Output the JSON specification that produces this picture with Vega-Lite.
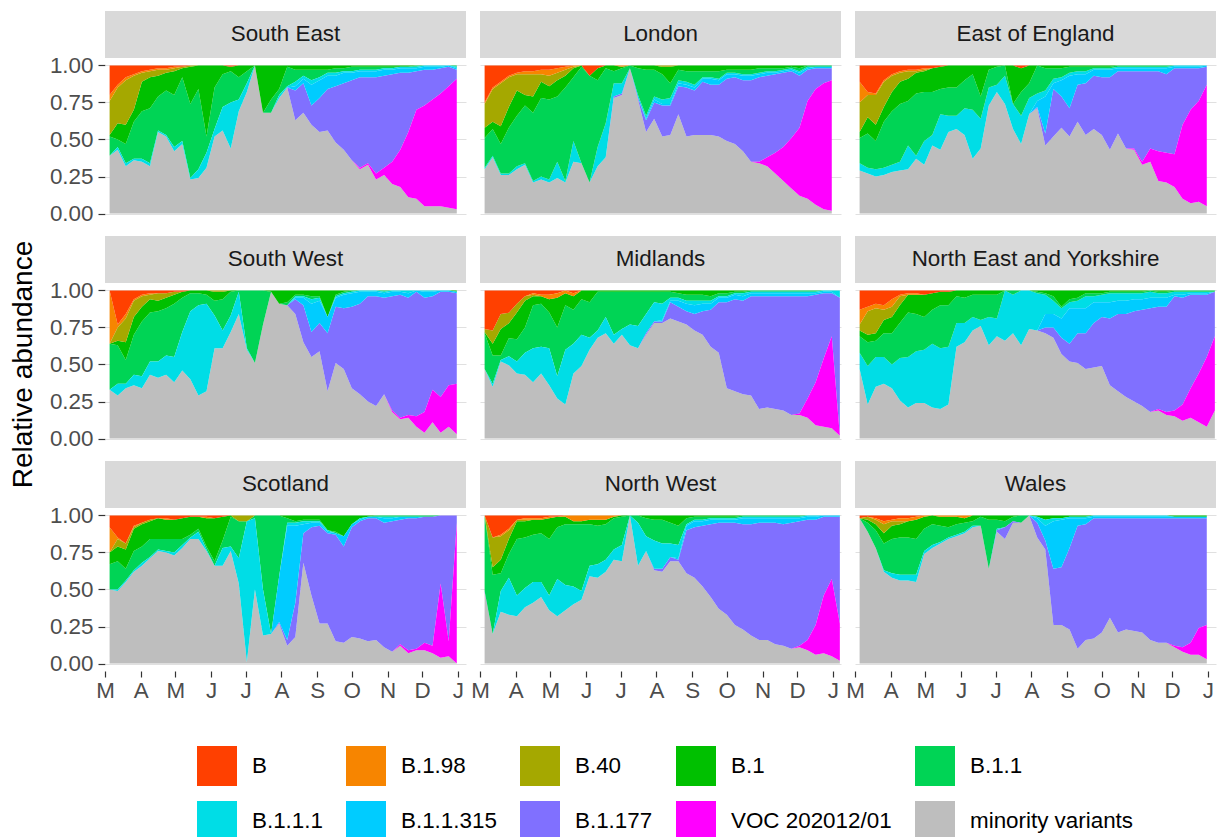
{
"$schema":"https://vega.github.io/schema/vega-lite/v6.json",
"padding":{"left":10,"top":10,"right":8,"bottom":0},
"background":"white",
"config":{"view":{"stroke":null},"font":"Liberation Sans","header":{"labels":false,"title":null,"labelPadding":0},"headerFacet":{"labels":false,"title":null,"labelPadding":0}},
"title":{"text":"Relative abundance","orient":"left","anchor":"middle","fontSize":28,"fontWeight":"normal","color":"black","offset":11,"dx":61},
"datasets":{
"variants":[{"code":"b","variant":"B","ord":9},{"code":"n","variant":"B.1.98","ord":8},{"code":"o","variant":"B.40","ord":7},{"code":"k","variant":"B.1","ord":6},{"code":"l","variant":"B.1.1","ord":5},{"code":"c","variant":"B.1.1.1","ord":4},{"code":"q","variant":"B.1.1.315","ord":3},{"code":"p","variant":"B.1.177","ord":2},{"code":"v","variant":"VOC 202012/01","ord":1},{"code":"m","variant":"minority variants","ord":0}],
"regions":[{"r":"SE","region":"South East"},{"r":"LO","region":"London"},{"r":"EE","region":"East of England"},{"r":"SW","region":"South West"},{"r":"MI","region":"Midlands"},{"r":"NE","region":"North East and Yorkshire"},{"r":"SC","region":"Scotland"},{"r":"NW","region":"North West"},{"r":"WA","region":"Wales"}]
},
"data":{"format":{"parse":{"d":"date"}},"values":[
{"r":"SE","d":"2020-03-05","m":0.39,"l":0.13,"k":0.01,"o":0.23,"n":0.04,"b":0.2},
{"r":"SE","d":"2020-03-12","m":0.43,"c":0.02,"l":0.05,"k":0.11,"o":0.24,"n":0.02,"b":0.13},
{"r":"SE","d":"2020-03-19","m":0.32,"c":0.02,"l":0.13,"k":0.13,"o":0.3,"n":0.02,"b":0.08},
{"r":"SE","d":"2020-03-26","m":0.36,"c":0.01,"l":0.25,"k":0.08,"o":0.23,"n":0.01,"b":0.06},
{"r":"SE","d":"2020-04-02","m":0.35,"c":0.02,"l":0.32,"k":0.2,"o":0.06,"n":0.01,"b":0.04},
{"r":"SE","d":"2020-04-09","m":0.32,"c":0.02,"l":0.37,"k":0.21,"o":0.04,"n":0.01,"b":0.03},
{"r":"SE","d":"2020-04-16","m":0.55,"c":0.01,"l":0.23,"k":0.14,"o":0.04,"n":0.01,"b":0.02},
{"r":"SE","d":"2020-04-23","m":0.52,"c":0.01,"l":0.3,"k":0.12,"o":0.02,"n":0.01,"b":0.02},
{"r":"SE","d":"2020-04-30","m":0.42,"c":0.03,"l":0.35,"k":0.16,"o":0.02,"n":0.01,"b":0.01},
{"r":"SE","d":"2020-05-07","m":0.47,"c":0.02,"l":0.43,"k":0.06,"o":0.01,"b":0.01},
{"r":"SE","d":"2020-05-14","m":0.23,"c":0.01,"l":0.5,"k":0.25,"o":0.01},
{"r":"SE","d":"2020-05-21","m":0.24,"c":0.06,"l":0.54,"k":0.16},
{"r":"SE","d":"2020-05-28","m":0.31,"c":0.1,"l":0.11,"k":0.48},
{"r":"SE","d":"2020-06-04","m":0.52,"c":0.05,"l":0.28,"k":0.15},
{"r":"SE","d":"2020-06-11","m":0.56,"c":0.16,"l":0.22,"k":0.06},
{"r":"SE","d":"2020-06-18","m":0.44,"c":0.31,"l":0.21,"k":0.03,"b":0.01},
{"r":"SE","d":"2020-06-25","m":0.69,"c":0.08,"l":0.15,"k":0.08},
{"r":"SE","d":"2020-07-02","m":0.82,"c":0.06,"l":0.08,"k":0.04},
{"r":"SE","d":"2020-07-09","m":1.0},
{"r":"SE","d":"2020-07-16","m":0.68,"k":0.32},
{"r":"SE","d":"2020-07-23","m":0.68,"l":0.09,"k":0.23},
{"r":"SE","d":"2020-07-30","m":0.78,"c":0.02,"l":0.04,"k":0.16},
{"r":"SE","d":"2020-08-06","m":0.85,"c":0.01,"l":0.13,"k":0.01},
{"r":"SE","d":"2020-08-13","m":0.63,"p":0.2,"q":0.03,"c":0.03,"l":0.08,"k":0.03},
{"r":"SE","d":"2020-08-20","m":0.68,"p":0.2,"q":0.03,"c":0.02,"l":0.04,"k":0.03},
{"r":"SE","d":"2020-08-27","m":0.6,"p":0.13,"q":0.14,"c":0.03,"l":0.07,"k":0.03},
{"r":"SE","d":"2020-09-03","m":0.55,"p":0.23,"q":0.12,"c":0.02,"l":0.05,"k":0.03},
{"r":"SE","d":"2020-09-10","m":0.56,"p":0.28,"q":0.09,"c":0.02,"l":0.02,"k":0.03},
{"r":"SE","d":"2020-09-17","m":0.48,"p":0.38,"q":0.07,"c":0.02,"l":0.03,"k":0.02},
{"r":"SE","d":"2020-09-24","m":0.43,"p":0.45,"q":0.07,"c":0.01,"l":0.02,"k":0.02},
{"r":"SE","d":"2020-10-01","m":0.36,"p":0.54,"q":0.05,"c":0.01,"l":0.03,"k":0.01},
{"r":"SE","d":"2020-10-08","m":0.3,"v":0.01,"p":0.61,"q":0.04,"c":0.01,"l":0.02,"k":0.01},
{"r":"SE","d":"2020-10-15","m":0.33,"v":0.01,"p":0.58,"q":0.04,"c":0.01,"l":0.02,"k":0.01},
{"r":"SE","d":"2020-10-22","m":0.23,"v":0.04,"p":0.65,"q":0.04,"c":0.01,"l":0.02,"k":0.01},
{"r":"SE","d":"2020-10-29","m":0.26,"v":0.05,"p":0.62,"q":0.04,"c":0.01,"l":0.01,"k":0.01},
{"r":"SE","d":"2020-11-05","m":0.2,"v":0.15,"p":0.59,"q":0.03,"c":0.01,"l":0.01,"k":0.01},
{"r":"SE","d":"2020-11-12","m":0.18,"v":0.25,"p":0.52,"q":0.03,"c":0.01,"k":0.01},
{"r":"SE","d":"2020-11-19","m":0.11,"v":0.44,"p":0.4,"q":0.03,"c":0.01,"k":0.01},
{"r":"SE","d":"2020-11-26","m":0.1,"v":0.6,"p":0.26,"q":0.02,"c":0.01,"l":0.01},
{"r":"SE","d":"2020-12-03","m":0.05,"v":0.68,"p":0.24,"q":0.02,"c":0.01},
{"r":"SE","d":"2020-12-10","m":0.05,"v":0.72,"p":0.2,"q":0.02,"c":0.01},
{"r":"SE","d":"2020-12-17","m":0.05,"v":0.76,"p":0.17,"q":0.01,"c":0.01},
{"r":"SE","d":"2020-12-24","m":0.04,"v":0.82,"p":0.13,"q":0.01},
{"r":"SE","d":"2020-12-31","m":0.03,"v":0.88,"p":0.06,"q":0.01,"c":0.01,"l":0.01},
{"r":"LO","d":"2020-03-05","m":0.3,"c":0.01,"l":0.2,"k":0.07,"o":0.16,"n":0.01,"b":0.25},
{"r":"LO","d":"2020-03-12","m":0.38,"c":0.01,"l":0.18,"k":0.05,"o":0.22,"n":0.01,"b":0.15},
{"r":"LO","d":"2020-03-19","m":0.26,"c":0.01,"l":0.2,"k":0.12,"o":0.29,"n":0.01,"b":0.11},
{"r":"LO","d":"2020-03-26","m":0.26,"c":0.01,"l":0.31,"k":0.14,"o":0.2,"n":0.01,"b":0.07},
{"r":"LO","d":"2020-04-02","m":0.3,"c":0.02,"l":0.34,"k":0.17,"o":0.11,"n":0.01,"b":0.05},
{"r":"LO","d":"2020-04-09","m":0.33,"c":0.01,"l":0.39,"k":0.07,"o":0.14,"n":0.02,"b":0.04},
{"r":"LO","d":"2020-04-16","m":0.21,"c":0.01,"l":0.46,"k":0.11,"o":0.15,"n":0.02,"b":0.04},
{"r":"LO","d":"2020-04-23","m":0.23,"c":0.02,"l":0.53,"k":0.11,"o":0.05,"n":0.03,"b":0.03},
{"r":"LO","d":"2020-04-30","m":0.21,"c":0.02,"l":0.54,"k":0.09,"o":0.07,"n":0.04,"b":0.03},
{"r":"LO","d":"2020-05-07","m":0.24,"c":0.11,"l":0.44,"k":0.11,"o":0.05,"n":0.03,"b":0.02},
{"r":"LO","d":"2020-05-14","m":0.21,"c":0.01,"l":0.63,"k":0.08,"o":0.04,"n":0.02,"b":0.01},
{"r":"LO","d":"2020-05-21","m":0.35,"c":0.14,"l":0.43,"k":0.06,"o":0.01,"n":0.01},
{"r":"LO","d":"2020-05-28","m":0.34,"l":0.65,"k":0.01},
{"r":"LO","d":"2020-06-04","m":0.21,"l":0.72,"b":0.07},
{"r":"LO","d":"2020-06-11","m":0.32,"c":0.13,"l":0.45,"k":0.08,"b":0.02},
{"r":"LO","d":"2020-06-18","m":0.38,"c":0.23,"l":0.37,"k":0.02},
{"r":"LO","d":"2020-06-25","m":0.78,"p":0.01,"c":0.09,"l":0.08,"k":0.04},
{"r":"LO","d":"2020-07-02","m":0.8,"p":0.01,"c":0.07,"l":0.1,"k":0.01,"n":0.01},
{"r":"LO","d":"2020-07-09","m":0.98,"l":0.02},
{"r":"LO","d":"2020-07-16","m":0.77,"p":0.01,"c":0.02,"l":0.18,"k":0.02},
{"r":"LO","d":"2020-07-23","m":0.55,"p":0.08,"q":0.01,"c":0.02,"l":0.31,"k":0.03},
{"r":"LO","d":"2020-07-30","m":0.64,"p":0.11,"q":0.02,"c":0.02,"l":0.18,"k":0.03},
{"r":"LO","d":"2020-08-06","m":0.52,"p":0.21,"q":0.01,"c":0.03,"l":0.17,"k":0.05,"o":0.01},
{"r":"LO","d":"2020-08-13","m":0.53,"p":0.2,"q":0.01,"c":0.04,"l":0.1,"k":0.11,"o":0.01},
{"r":"LO","d":"2020-08-20","m":0.67,"p":0.19,"q":0.02,"c":0.02,"l":0.07,"k":0.03},
{"r":"LO","d":"2020-08-27","m":0.52,"p":0.33,"q":0.02,"c":0.02,"l":0.07,"k":0.04},
{"r":"LO","d":"2020-09-03","m":0.53,"p":0.3,"q":0.02,"c":0.02,"l":0.09,"k":0.04},
{"r":"LO","d":"2020-09-10","m":0.53,"p":0.36,"q":0.02,"c":0.01,"l":0.04,"k":0.04},
{"r":"LO","d":"2020-09-17","m":0.53,"p":0.34,"q":0.04,"c":0.01,"l":0.04,"k":0.04},
{"r":"LO","d":"2020-09-24","m":0.52,"p":0.35,"q":0.03,"c":0.01,"l":0.05,"k":0.04},
{"r":"LO","d":"2020-10-01","m":0.49,"p":0.42,"q":0.03,"c":0.01,"l":0.02,"k":0.03},
{"r":"LO","d":"2020-10-08","m":0.47,"p":0.45,"q":0.02,"c":0.01,"l":0.02,"k":0.03},
{"r":"LO","d":"2020-10-15","m":0.42,"p":0.48,"q":0.03,"c":0.01,"l":0.03,"k":0.03},
{"r":"LO","d":"2020-10-22","m":0.35,"p":0.55,"q":0.03,"c":0.01,"l":0.03,"k":0.03},
{"r":"LO","d":"2020-10-29","m":0.34,"v":0.01,"p":0.57,"q":0.02,"c":0.01,"l":0.03,"k":0.02},
{"r":"LO","d":"2020-11-05","m":0.32,"v":0.06,"p":0.55,"q":0.02,"c":0.01,"l":0.02,"k":0.02},
{"r":"LO","d":"2020-11-12","m":0.27,"v":0.14,"p":0.53,"q":0.01,"c":0.01,"l":0.02,"k":0.02},
{"r":"LO","d":"2020-11-19","m":0.22,"v":0.23,"p":0.5,"q":0.01,"c":0.01,"l":0.01,"k":0.02},
{"r":"LO","d":"2020-11-26","m":0.17,"v":0.34,"p":0.45,"q":0.01,"c":0.01,"l":0.01,"k":0.01},
{"r":"LO","d":"2020-12-03","m":0.12,"v":0.46,"p":0.35,"q":0.02,"c":0.01,"l":0.02,"k":0.02},
{"r":"LO","d":"2020-12-10","m":0.1,"v":0.66,"p":0.21,"q":0.01,"c":0.01,"l":0.01},
{"r":"LO","d":"2020-12-17","m":0.06,"v":0.78,"p":0.14,"q":0.01,"l":0.01},
{"r":"LO","d":"2020-12-24","m":0.03,"v":0.85,"p":0.1,"q":0.01,"l":0.01},
{"r":"LO","d":"2020-12-31","m":0.02,"v":0.88,"p":0.08,"q":0.01,"l":0.01},
{"r":"EE","d":"2020-03-05","m":0.29,"c":0.05,"l":0.17,"k":0.04,"o":0.2,"n":0.14,"b":0.11},
{"r":"EE","d":"2020-03-12","m":0.27,"c":0.04,"l":0.23,"k":0.11,"o":0.15,"n":0.02,"b":0.18},
{"r":"EE","d":"2020-03-19","m":0.25,"c":0.05,"l":0.19,"k":0.11,"o":0.2,"n":0.01,"b":0.19},
{"r":"EE","d":"2020-03-26","m":0.26,"c":0.05,"l":0.31,"k":0.1,"o":0.17,"n":0.01,"b":0.1},
{"r":"EE","d":"2020-04-02","m":0.28,"c":0.05,"l":0.36,"k":0.13,"o":0.11,"n":0.01,"b":0.06},
{"r":"EE","d":"2020-04-09","m":0.29,"c":0.06,"l":0.39,"k":0.15,"o":0.06,"n":0.01,"b":0.04},
{"r":"EE","d":"2020-04-16","m":0.3,"c":0.16,"l":0.3,"k":0.15,"o":0.05,"n":0.01,"b":0.03},
{"r":"EE","d":"2020-04-23","m":0.37,"c":0.02,"l":0.42,"k":0.14,"o":0.01,"n":0.01,"b":0.03},
{"r":"EE","d":"2020-04-30","m":0.33,"c":0.16,"l":0.33,"k":0.14,"o":0.01,"n":0.01,"b":0.02},
{"r":"EE","d":"2020-05-07","m":0.46,"c":0.07,"l":0.29,"k":0.16,"b":0.02},
{"r":"EE","d":"2020-05-14","m":0.43,"c":0.24,"l":0.17,"k":0.15,"b":0.01},
{"r":"EE","d":"2020-05-21","m":0.55,"c":0.11,"l":0.19,"k":0.15},
{"r":"EE","d":"2020-05-28","m":0.57,"c":0.09,"l":0.19,"k":0.15},
{"r":"EE","d":"2020-06-04","m":0.53,"c":0.18,"l":0.19,"k":0.1},
{"r":"EE","d":"2020-06-11","m":0.37,"c":0.33,"l":0.24,"k":0.06},
{"r":"EE","d":"2020-06-18","m":0.44,"c":0.2,"l":0.15,"k":0.21},
{"r":"EE","d":"2020-06-25","m":0.73,"c":0.12,"l":0.12,"k":0.03},
{"r":"EE","d":"2020-07-02","m":0.82,"c":0.05,"l":0.12,"k":0.01},
{"r":"EE","d":"2020-07-09","m":0.74,"c":0.19,"l":0.07},
{"r":"EE","d":"2020-07-16","m":0.57,"c":0.17,"k":0.26},
{"r":"EE","d":"2020-07-23","m":0.47,"c":0.19,"l":0.16,"k":0.16,"b":0.02},
{"r":"EE","d":"2020-07-30","m":0.67,"c":0.11,"l":0.1,"k":0.12},
{"r":"EE","d":"2020-08-06","m":0.71,"p":0.01,"q":0.04,"c":0.05,"l":0.19},
{"r":"EE","d":"2020-08-13","m":0.46,"p":0.08,"q":0.25,"c":0.04,"l":0.15,"k":0.02},
{"r":"EE","d":"2020-08-20","m":0.52,"p":0.32,"q":0.04,"c":0.03,"l":0.07,"k":0.02},
{"r":"EE","d":"2020-08-27","m":0.58,"p":0.21,"q":0.11,"c":0.02,"l":0.06,"k":0.02},
{"r":"EE","d":"2020-09-03","m":0.52,"p":0.19,"q":0.22,"c":0.02,"l":0.04,"k":0.01},
{"r":"EE","d":"2020-09-10","m":0.62,"p":0.25,"q":0.07,"c":0.02,"l":0.03,"k":0.01},
{"r":"EE","d":"2020-09-17","m":0.53,"p":0.35,"q":0.06,"c":0.02,"l":0.03,"k":0.01},
{"r":"EE","d":"2020-09-24","m":0.57,"p":0.36,"q":0.04,"c":0.01,"l":0.01,"k":0.01},
{"r":"EE","d":"2020-10-01","m":0.53,"p":0.39,"q":0.05,"c":0.01,"l":0.01,"k":0.01},
{"r":"EE","d":"2020-10-08","m":0.43,"p":0.49,"q":0.05,"c":0.01,"l":0.01,"k":0.01},
{"r":"EE","d":"2020-10-15","m":0.54,"p":0.42,"q":0.02,"c":0.01,"l":0.01},
{"r":"EE","d":"2020-10-22","m":0.44,"p":0.52,"q":0.02,"c":0.01,"l":0.01},
{"r":"EE","d":"2020-10-29","m":0.43,"v":0.01,"p":0.52,"q":0.02,"c":0.01,"l":0.01},
{"r":"EE","d":"2020-11-05","m":0.33,"v":0.02,"p":0.61,"q":0.02,"c":0.01,"l":0.01},
{"r":"EE","d":"2020-11-12","m":0.35,"v":0.09,"p":0.52,"q":0.02,"c":0.01,"l":0.01},
{"r":"EE","d":"2020-11-19","m":0.22,"v":0.2,"p":0.54,"q":0.02,"c":0.01,"l":0.01},
{"r":"EE","d":"2020-11-26","m":0.21,"v":0.2,"p":0.53,"q":0.04,"c":0.01,"l":0.01},
{"r":"EE","d":"2020-12-03","m":0.18,"v":0.22,"p":0.58,"q":0.01,"c":0.01},
{"r":"EE","d":"2020-12-10","m":0.1,"v":0.5,"p":0.38,"q":0.01,"c":0.01},
{"r":"EE","d":"2020-12-17","m":0.07,"v":0.63,"p":0.28,"q":0.01,"c":0.01},
{"r":"EE","d":"2020-12-24","m":0.08,"v":0.68,"p":0.22,"q":0.01,"c":0.01},
{"r":"EE","d":"2020-12-31","m":0.05,"v":0.82,"p":0.12,"q":0.01},
{"r":"SW","d":"2020-03-05","m":0.33,"l":0.31,"n":0.36},
{"r":"SW","d":"2020-03-12","m":0.29,"c":0.08,"l":0.26,"k":0.03,"o":0.09,"n":0.02,"b":0.23},
{"r":"SW","d":"2020-03-19","m":0.34,"c":0.03,"l":0.16,"k":0.12,"o":0.16,"n":0.03,"b":0.16},
{"r":"SW","d":"2020-03-26","m":0.36,"c":0.07,"l":0.27,"k":0.12,"o":0.11,"n":0.01,"b":0.06},
{"r":"SW","d":"2020-04-02","m":0.34,"c":0.08,"l":0.37,"k":0.1,"o":0.07,"n":0.01,"b":0.03},
{"r":"SW","d":"2020-04-09","m":0.43,"c":0.09,"l":0.33,"k":0.09,"o":0.03,"n":0.01,"b":0.02},
{"r":"SW","d":"2020-04-16","m":0.41,"c":0.11,"l":0.34,"k":0.07,"o":0.05,"b":0.02},
{"r":"SW","d":"2020-04-23","m":0.43,"c":0.13,"l":0.32,"k":0.07,"o":0.03,"b":0.02},
{"r":"SW","d":"2020-04-30","m":0.38,"c":0.17,"l":0.36,"k":0.06,"o":0.02,"b":0.01},
{"r":"SW","d":"2020-05-07","m":0.46,"c":0.26,"l":0.23,"k":0.04,"b":0.01},
{"r":"SW","d":"2020-05-14","m":0.4,"c":0.46,"l":0.12,"k":0.02},
{"r":"SW","d":"2020-05-21","m":0.29,"c":0.61,"l":0.08,"k":0.02},
{"r":"SW","d":"2020-05-28","m":0.32,"c":0.59,"l":0.06,"k":0.03},
{"r":"SW","d":"2020-06-04","m":0.61,"c":0.22,"l":0.1,"k":0.06,"o":0.01},
{"r":"SW","d":"2020-06-11","m":0.61,"c":0.12,"l":0.21,"k":0.05,"o":0.01},
{"r":"SW","d":"2020-06-18","m":0.72,"c":0.11,"l":0.16,"k":0.01},
{"r":"SW","d":"2020-06-25","m":0.84,"c":0.15,"l":0.01},
{"r":"SW","d":"2020-07-02","m":0.6,"c":0.01,"l":0.39},
{"r":"SW","d":"2020-07-09","m":0.51,"l":0.49},
{"r":"SW","d":"2020-07-16","m":0.77,"l":0.23},
{"r":"SW","d":"2020-07-23","m":0.99,"k":0.01},
{"r":"SW","d":"2020-07-30","m":0.91,"k":0.09},
{"r":"SW","d":"2020-08-06","m":0.9,"l":0.02,"k":0.08},
{"r":"SW","d":"2020-08-13","m":0.84,"p":0.1,"q":0.01,"c":0.01,"l":0.01,"k":0.03},
{"r":"SW","d":"2020-08-20","m":0.65,"p":0.25,"q":0.05,"c":0.01,"l":0.01,"k":0.03},
{"r":"SW","d":"2020-08-27","m":0.55,"p":0.17,"q":0.19,"c":0.03,"l":0.02,"k":0.04},
{"r":"SW","d":"2020-09-03","m":0.59,"p":0.19,"q":0.15,"c":0.02,"l":0.01,"k":0.04},
{"r":"SW","d":"2020-09-10","m":0.32,"p":0.39,"q":0.11,"k":0.18},
{"r":"SW","d":"2020-09-17","m":0.51,"p":0.38,"q":0.06,"c":0.01,"l":0.01,"k":0.03},
{"r":"SW","d":"2020-09-24","m":0.47,"p":0.41,"q":0.09,"c":0.01,"l":0.01,"k":0.01},
{"r":"SW","d":"2020-10-01","m":0.34,"p":0.55,"q":0.09,"c":0.01,"l":0.01},
{"r":"SW","d":"2020-10-08","m":0.3,"p":0.61,"q":0.08,"c":0.01},
{"r":"SW","d":"2020-10-15","m":0.25,"p":0.71,"q":0.03,"c":0.01},
{"r":"SW","d":"2020-10-22","m":0.22,"p":0.74,"q":0.03,"c":0.01},
{"r":"SW","d":"2020-10-29","m":0.3,"p":0.65,"q":0.03,"c":0.01,"l":0.01},
{"r":"SW","d":"2020-11-05","m":0.18,"v":0.01,"p":0.77,"q":0.03,"c":0.01},
{"r":"SW","d":"2020-11-12","m":0.13,"v":0.01,"p":0.83,"q":0.02,"c":0.01},
{"r":"SW","d":"2020-11-19","m":0.14,"v":0.02,"p":0.79,"q":0.03,"c":0.02},
{"r":"SW","d":"2020-11-26","m":0.08,"v":0.07,"p":0.84,"q":0.01},
{"r":"SW","d":"2020-12-03","m":0.04,"v":0.14,"p":0.77,"q":0.04,"c":0.01},
{"r":"SW","d":"2020-12-10","m":0.11,"v":0.22,"p":0.63,"q":0.03,"c":0.01},
{"r":"SW","d":"2020-12-17","m":0.04,"v":0.24,"p":0.71,"q":0.01},
{"r":"SW","d":"2020-12-24","m":0.08,"v":0.28,"p":0.63,"q":0.01},
{"r":"SW","d":"2020-12-31","m":0.03,"v":0.34,"p":0.61,"q":0.01,"k":0.01},
{"r":"MI","d":"2020-03-05","m":0.47,"l":0.24,"k":0.01,"o":0.02,"b":0.26},
{"r":"MI","d":"2020-03-12","m":0.35,"c":0.02,"l":0.19,"k":0.08,"o":0.09,"b":0.27},
{"r":"MI","d":"2020-03-19","m":0.52,"c":0.01,"l":0.03,"k":0.18,"o":0.1,"b":0.16},
{"r":"MI","d":"2020-03-26","m":0.49,"c":0.06,"l":0.12,"k":0.1,"o":0.07,"b":0.15},
{"r":"MI","d":"2020-04-02","m":0.44,"c":0.08,"l":0.15,"k":0.18,"o":0.06,"b":0.09},
{"r":"MI","d":"2020-04-09","m":0.43,"c":0.15,"l":0.17,"k":0.18,"o":0.03,"b":0.04},
{"r":"MI","d":"2020-04-16","m":0.38,"c":0.23,"l":0.29,"k":0.06,"o":0.01,"n":0.01,"b":0.02},
{"r":"MI","d":"2020-04-23","m":0.44,"c":0.18,"l":0.29,"k":0.05,"n":0.01,"b":0.03},
{"r":"MI","d":"2020-04-30","m":0.36,"c":0.25,"l":0.24,"k":0.09,"n":0.03,"b":0.03},
{"r":"MI","d":"2020-05-07","m":0.27,"c":0.15,"l":0.33,"k":0.2,"n":0.03,"b":0.02},
{"r":"MI","d":"2020-05-14","m":0.23,"c":0.37,"l":0.3,"k":0.08,"n":0.02},
{"r":"MI","d":"2020-05-21","m":0.44,"c":0.2,"l":0.23,"k":0.09,"n":0.02,"b":0.02},
{"r":"MI","d":"2020-05-28","m":0.49,"c":0.21,"l":0.24,"k":0.06},
{"r":"MI","d":"2020-06-04","m":0.6,"c":0.08,"l":0.24,"k":0.08},
{"r":"MI","d":"2020-06-11","m":0.68,"c":0.05,"l":0.26,"k":0.01},
{"r":"MI","d":"2020-06-18","m":0.71,"c":0.11,"l":0.17,"k":0.01},
{"r":"MI","d":"2020-06-25","m":0.64,"c":0.06,"l":0.29,"k":0.01},
{"r":"MI","d":"2020-07-02","m":0.7,"c":0.04,"l":0.25,"k":0.01},
{"r":"MI","d":"2020-07-09","m":0.63,"c":0.14,"l":0.22,"k":0.01},
{"r":"MI","d":"2020-07-16","m":0.61,"c":0.15,"l":0.23,"k":0.01},
{"r":"MI","d":"2020-07-23","m":0.7,"p":0.01,"c":0.13,"l":0.15,"k":0.01},
{"r":"MI","d":"2020-07-30","m":0.78,"p":0.01,"c":0.13,"l":0.07,"k":0.01},
{"r":"MI","d":"2020-08-06","m":0.78,"p":0.01,"q":0.01,"c":0.11,"l":0.08,"k":0.01},
{"r":"MI","d":"2020-08-13","m":0.81,"p":0.11,"q":0.01,"c":0.02,"l":0.04,"k":0.01},
{"r":"MI","d":"2020-08-20","m":0.79,"p":0.1,"q":0.04,"c":0.02,"l":0.03,"k":0.02},
{"r":"MI","d":"2020-08-27","m":0.77,"p":0.09,"q":0.05,"c":0.02,"l":0.04,"k":0.03},
{"r":"MI","d":"2020-09-03","m":0.73,"p":0.11,"q":0.06,"c":0.03,"l":0.04,"k":0.03},
{"r":"MI","d":"2020-09-10","m":0.7,"p":0.16,"q":0.05,"c":0.02,"l":0.04,"k":0.03},
{"r":"MI","d":"2020-09-17","m":0.62,"p":0.25,"q":0.04,"c":0.02,"l":0.03,"k":0.04},
{"r":"MI","d":"2020-09-24","m":0.58,"p":0.34,"q":0.03,"c":0.01,"l":0.02,"k":0.02},
{"r":"MI","d":"2020-10-01","m":0.34,"p":0.58,"q":0.03,"c":0.01,"l":0.02,"k":0.02},
{"r":"MI","d":"2020-10-08","m":0.32,"p":0.62,"q":0.03,"c":0.01,"l":0.01,"k":0.01},
{"r":"MI","d":"2020-10-15","m":0.3,"p":0.63,"q":0.03,"c":0.02,"l":0.01,"k":0.01},
{"r":"MI","d":"2020-10-22","m":0.29,"p":0.67,"q":0.02,"c":0.01,"l":0.01},
{"r":"MI","d":"2020-10-29","m":0.2,"p":0.76,"q":0.02,"c":0.01,"l":0.01},
{"r":"MI","d":"2020-11-05","m":0.21,"p":0.75,"q":0.02,"c":0.01,"l":0.01},
{"r":"MI","d":"2020-11-12","m":0.2,"p":0.76,"q":0.02,"c":0.01,"l":0.01},
{"r":"MI","d":"2020-11-19","m":0.19,"p":0.77,"q":0.02,"c":0.01,"l":0.01},
{"r":"MI","d":"2020-11-26","m":0.16,"p":0.8,"q":0.02,"c":0.01,"l":0.01},
{"r":"MI","d":"2020-12-03","m":0.16,"v":0.01,"p":0.79,"q":0.02,"c":0.01,"l":0.01},
{"r":"MI","d":"2020-12-10","m":0.14,"v":0.13,"p":0.69,"q":0.02,"c":0.01,"l":0.01},
{"r":"MI","d":"2020-12-17","m":0.09,"v":0.29,"p":0.59,"q":0.01,"c":0.01,"l":0.01},
{"r":"MI","d":"2020-12-24","m":0.08,"v":0.46,"p":0.44,"q":0.01,"c":0.01},
{"r":"MI","d":"2020-12-31","m":0.07,"v":0.62,"p":0.29,"q":0.01,"c":0.01},
{"r":"MI","d":"2021-01-07","m":0.02,"p":0.93,"c":0.05},
{"r":"NE","d":"2020-03-05","m":0.47,"c":0.11,"l":0.11,"k":0.04,"o":0.04,"n":0.1,"b":0.13},
{"r":"NE","d":"2020-03-12","m":0.23,"c":0.26,"l":0.16,"k":0.05,"o":0.16,"n":0.03,"b":0.11},
{"r":"NE","d":"2020-03-19","m":0.35,"c":0.2,"l":0.11,"k":0.05,"o":0.17,"n":0.03,"b":0.09},
{"r":"NE","d":"2020-03-26","m":0.37,"c":0.18,"l":0.16,"k":0.09,"o":0.07,"n":0.03,"b":0.1},
{"r":"NE","d":"2020-04-02","m":0.34,"c":0.16,"l":0.21,"k":0.11,"o":0.07,"n":0.05,"b":0.06},
{"r":"NE","d":"2020-04-09","m":0.26,"c":0.29,"l":0.24,"k":0.12,"o":0.06,"n":0.01,"b":0.03},
{"r":"NE","d":"2020-04-16","m":0.21,"c":0.34,"l":0.3,"k":0.12,"n":0.01,"b":0.02},
{"r":"NE","d":"2020-04-23","m":0.24,"c":0.35,"l":0.25,"k":0.13,"n":0.01,"b":0.02},
{"r":"NE","d":"2020-04-30","m":0.24,"c":0.36,"l":0.22,"k":0.15,"b":0.03},
{"r":"NE","d":"2020-05-07","m":0.21,"c":0.43,"l":0.23,"k":0.11,"b":0.02},
{"r":"NE","d":"2020-05-14","m":0.2,"c":0.41,"l":0.29,"k":0.09,"b":0.01},
{"r":"NE","d":"2020-05-21","m":0.23,"c":0.39,"l":0.28,"k":0.09,"b":0.01},
{"r":"NE","d":"2020-05-28","m":0.62,"c":0.16,"l":0.18,"k":0.04},
{"r":"NE","d":"2020-06-04","m":0.65,"c":0.13,"l":0.17,"k":0.05},
{"r":"NE","d":"2020-06-11","m":0.73,"c":0.09,"l":0.15,"k":0.03},
{"r":"NE","d":"2020-06-18","m":0.76,"c":0.04,"l":0.17,"k":0.03},
{"r":"NE","d":"2020-06-25","m":0.63,"c":0.19,"l":0.15,"k":0.03},
{"r":"NE","d":"2020-07-02","m":0.69,"c":0.12,"l":0.16,"k":0.03},
{"r":"NE","d":"2020-07-09","m":0.66,"c":0.34},
{"r":"NE","d":"2020-07-16","m":0.71,"c":0.26,"l":0.03},
{"r":"NE","d":"2020-07-23","m":0.63,"c":0.37},
{"r":"NE","d":"2020-07-30","m":0.74,"c":0.26},
{"r":"NE","d":"2020-08-06","m":0.73,"c":0.25,"l":0.01,"k":0.01},
{"r":"NE","d":"2020-08-13","m":0.71,"p":0.04,"q":0.09,"c":0.13,"l":0.01,"k":0.02},
{"r":"NE","d":"2020-08-20","m":0.68,"p":0.07,"q":0.09,"c":0.09,"l":0.03,"k":0.04},
{"r":"NE","d":"2020-08-27","m":0.57,"p":0.11,"q":0.13,"c":0.07,"l":0.01,"k":0.11},
{"r":"NE","d":"2020-09-03","m":0.52,"p":0.12,"q":0.24,"c":0.04,"l":0.02,"k":0.06},
{"r":"NE","d":"2020-09-10","m":0.51,"p":0.2,"q":0.17,"c":0.05,"l":0.02,"k":0.05},
{"r":"NE","d":"2020-09-17","m":0.47,"p":0.24,"q":0.17,"c":0.08,"l":0.02,"k":0.02},
{"r":"NE","d":"2020-09-24","m":0.48,"p":0.3,"q":0.14,"c":0.04,"l":0.02,"k":0.02},
{"r":"NE","d":"2020-10-01","m":0.49,"p":0.33,"q":0.1,"c":0.05,"l":0.01,"k":0.02},
{"r":"NE","d":"2020-10-08","m":0.36,"p":0.45,"q":0.11,"c":0.06,"l":0.01,"k":0.01},
{"r":"NE","d":"2020-10-15","m":0.32,"p":0.52,"q":0.09,"c":0.05,"l":0.01,"k":0.01},
{"r":"NE","d":"2020-10-22","m":0.28,"p":0.56,"q":0.09,"c":0.05,"l":0.01,"k":0.01},
{"r":"NE","d":"2020-10-29","m":0.25,"p":0.61,"q":0.08,"c":0.04,"l":0.01,"k":0.01},
{"r":"NE","d":"2020-11-05","m":0.22,"p":0.65,"q":0.07,"c":0.04,"l":0.01,"k":0.01},
{"r":"NE","d":"2020-11-12","m":0.18,"p":0.7,"q":0.07,"c":0.04,"l":0.01},
{"r":"NE","d":"2020-11-19","m":0.19,"v":0.01,"p":0.69,"q":0.06,"c":0.03,"l":0.01,"k":0.01},
{"r":"NE","d":"2020-11-26","m":0.16,"v":0.02,"p":0.71,"q":0.06,"c":0.03,"l":0.01,"k":0.01},
{"r":"NE","d":"2020-12-03","m":0.15,"v":0.04,"p":0.77,"q":0.01,"c":0.02,"l":0.01},
{"r":"NE","d":"2020-12-10","m":0.12,"v":0.11,"p":0.72,"q":0.02,"c":0.02,"l":0.01},
{"r":"NE","d":"2020-12-17","m":0.14,"v":0.2,"p":0.63,"q":0.01,"c":0.01,"l":0.01},
{"r":"NE","d":"2020-12-24","m":0.11,"v":0.33,"p":0.53,"q":0.01,"c":0.01,"l":0.01},
{"r":"NE","d":"2020-12-31","m":0.08,"v":0.47,"p":0.42,"q":0.01,"c":0.01,"l":0.01},
{"r":"NE","d":"2021-01-07","m":0.19,"v":0.5,"p":0.3,"l":0.01},
{"r":"SC","d":"2020-03-05","m":0.5,"l":0.17,"k":0.08,"n":0.17,"b":0.08},
{"r":"SC","d":"2020-03-12","m":0.49,"c":0.01,"l":0.19,"k":0.1,"o":0.05,"n":0.01,"b":0.15},
{"r":"SC","d":"2020-03-19","m":0.55,"c":0.01,"l":0.08,"k":0.13,"o":0.04,"b":0.19},
{"r":"SC","d":"2020-03-26","m":0.62,"c":0.01,"l":0.13,"k":0.15,"o":0.01,"n":0.01,"b":0.07},
{"r":"SC","d":"2020-04-02","m":0.66,"c":0.02,"l":0.11,"k":0.15,"o":0.01,"b":0.05},
{"r":"SC","d":"2020-04-09","m":0.71,"c":0.01,"l":0.12,"k":0.12,"o":0.01,"b":0.03},
{"r":"SC","d":"2020-04-16","m":0.76,"c":0.01,"l":0.07,"k":0.14,"b":0.02},
{"r":"SC","d":"2020-04-23","m":0.75,"c":0.01,"l":0.08,"k":0.13,"n":0.01,"b":0.02},
{"r":"SC","d":"2020-04-30","m":0.73,"c":0.02,"l":0.09,"k":0.13,"b":0.03},
{"r":"SC","d":"2020-05-07","m":0.78,"c":0.02,"l":0.04,"k":0.14,"b":0.02},
{"r":"SC","d":"2020-05-14","m":0.84,"c":0.01,"l":0.02,"k":0.12,"b":0.01},
{"r":"SC","d":"2020-05-21","m":0.84,"c":0.05,"l":0.02,"k":0.08,"b":0.01},
{"r":"SC","d":"2020-05-28","m":0.76,"c":0.01,"l":0.02,"k":0.19,"n":0.01,"b":0.01},
{"r":"SC","d":"2020-06-04","m":0.66,"l":0.03,"k":0.29,"b":0.02},
{"r":"SC","d":"2020-06-11","m":0.66,"c":0.12,"l":0.05,"k":0.16,"b":0.01},
{"r":"SC","d":"2020-06-18","m":0.76,"c":0.03,"l":0.2,"k":0.01},
{"r":"SC","d":"2020-06-25","m":0.54,"c":0.17,"l":0.25,"o":0.04},
{"r":"SC","d":"2020-07-02","m":0.01,"c":0.95,"o":0.04},
{"r":"SC","d":"2020-07-09","m":0.5,"c":0.48,"l":0.02},
{"r":"SC","d":"2020-07-16","m":0.19,"c":0.31,"l":0.5},
{"r":"SC","d":"2020-07-23","m":0.2,"l":0.8},
{"r":"SC","d":"2020-07-30","m":0.27,"p":0.01,"q":0.31,"l":0.41},
{"r":"SC","d":"2020-08-06","m":0.12,"p":0.04,"q":0.77,"c":0.02,"l":0.03,"k":0.02},
{"r":"SC","d":"2020-08-13","m":0.18,"p":0.23,"q":0.52,"c":0.02,"l":0.01,"k":0.04},
{"r":"SC","d":"2020-08-20","m":0.68,"p":0.2,"q":0.06,"c":0.02,"l":0.01,"k":0.03},
{"r":"SC","d":"2020-08-27","m":0.46,"p":0.46,"q":0.03,"c":0.01,"l":0.01,"k":0.03},
{"r":"SC","d":"2020-09-03","m":0.27,"p":0.66,"q":0.02,"c":0.01,"l":0.01,"k":0.03},
{"r":"SC","d":"2020-09-10","m":0.27,"p":0.61,"q":0.01,"c":0.01,"k":0.1},
{"r":"SC","d":"2020-09-17","m":0.15,"p":0.72,"q":0.01,"l":0.01,"k":0.11},
{"r":"SC","d":"2020-09-24","m":0.14,"p":0.65,"q":0.07,"k":0.14},
{"r":"SC","d":"2020-10-01","m":0.18,"p":0.74,"q":0.02,"k":0.06},
{"r":"SC","d":"2020-10-08","m":0.17,"p":0.79,"q":0.01,"c":0.01,"k":0.02},
{"r":"SC","d":"2020-10-15","m":0.15,"p":0.83,"q":0.01,"k":0.01},
{"r":"SC","d":"2020-10-22","m":0.16,"p":0.82,"q":0.01,"l":0.01},
{"r":"SC","d":"2020-10-29","m":0.11,"p":0.84,"q":0.03,"c":0.01,"l":0.01},
{"r":"SC","d":"2020-11-05","m":0.08,"p":0.88,"q":0.02,"c":0.01,"l":0.01},
{"r":"SC","d":"2020-11-12","m":0.12,"v":0.01,"p":0.84,"q":0.02,"l":0.01},
{"r":"SC","d":"2020-11-19","m":0.07,"v":0.02,"p":0.89,"q":0.01,"l":0.01},
{"r":"SC","d":"2020-11-26","m":0.09,"v":0.01,"p":0.88,"q":0.01,"l":0.01},
{"r":"SC","d":"2020-12-03","m":0.09,"v":0.05,"p":0.85,"l":0.01},
{"r":"SC","d":"2020-12-10","m":0.07,"v":0.05,"p":0.87,"l":0.01},
{"r":"SC","d":"2020-12-17","m":0.04,"v":0.5,"p":0.46},
{"r":"SC","d":"2020-12-24","m":0.05,"v":0.1,"p":0.85},
{"r":"SC","d":"2020-12-31","v":0.95,"p":0.05},
{"r":"NW","d":"2020-03-05","m":0.48,"p":0.01,"l":0.51},
{"r":"NW","d":"2020-03-12","m":0.2,"l":0.4,"k":0.05,"o":0.2,"b":0.15},
{"r":"NW","d":"2020-03-19","m":0.35,"c":0.14,"l":0.12,"k":0.09,"o":0.16,"n":0.01,"b":0.13},
{"r":"NW","d":"2020-03-26","m":0.33,"c":0.25,"l":0.16,"k":0.1,"o":0.06,"n":0.01,"b":0.09},
{"r":"NW","d":"2020-04-02","m":0.32,"c":0.14,"l":0.38,"k":0.12,"o":0.01,"b":0.03},
{"r":"NW","d":"2020-04-09","m":0.38,"c":0.13,"l":0.34,"k":0.11,"o":0.01,"n":0.01,"b":0.02},
{"r":"NW","d":"2020-04-16","m":0.41,"c":0.14,"l":0.32,"k":0.1,"n":0.01,"b":0.02},
{"r":"NW","d":"2020-04-23","m":0.45,"c":0.1,"l":0.33,"k":0.09,"n":0.01,"b":0.02},
{"r":"NW","d":"2020-04-30","m":0.36,"c":0.1,"l":0.38,"k":0.14,"n":0.01,"b":0.01},
{"r":"NW","d":"2020-05-07","m":0.32,"c":0.25,"l":0.35,"k":0.07,"b":0.01},
{"r":"NW","d":"2020-05-14","m":0.36,"c":0.17,"l":0.41,"k":0.05,"n":0.01},
{"r":"NW","d":"2020-05-21","m":0.4,"c":0.12,"l":0.42,"k":0.02,"n":0.04},
{"r":"NW","d":"2020-05-28","m":0.43,"c":0.06,"l":0.45,"k":0.02,"n":0.04},
{"r":"NW","d":"2020-06-04","m":0.59,"c":0.07,"l":0.28,"k":0.03,"n":0.03},
{"r":"NW","d":"2020-06-11","m":0.58,"c":0.09,"l":0.26,"k":0.04,"n":0.03},
{"r":"NW","d":"2020-06-18","m":0.62,"c":0.08,"l":0.24,"k":0.03,"n":0.03},
{"r":"NW","d":"2020-06-25","m":0.7,"c":0.07,"l":0.21,"k":0.01,"n":0.01},
{"r":"NW","d":"2020-07-02","m":0.69,"c":0.11,"l":0.19,"k":0.01},
{"r":"NW","d":"2020-07-09","m":1.0},
{"r":"NW","d":"2020-07-16","m":0.66,"c":0.29,"l":0.05},
{"r":"NW","d":"2020-07-23","m":0.76,"c":0.1,"l":0.12,"k":0.02},
{"r":"NW","d":"2020-07-30","m":0.63,"p":0.01,"c":0.19,"l":0.14,"k":0.03},
{"r":"NW","d":"2020-08-06","m":0.62,"p":0.02,"c":0.17,"l":0.16,"k":0.03},
{"r":"NW","d":"2020-08-13","m":0.69,"p":0.03,"c":0.09,"l":0.14,"k":0.05},
{"r":"NW","d":"2020-08-20","m":0.69,"p":0.01,"q":0.01,"c":0.09,"l":0.13,"k":0.07},
{"r":"NW","d":"2020-08-27","m":0.61,"p":0.29,"q":0.03,"c":0.01,"l":0.04,"k":0.02},
{"r":"NW","d":"2020-09-03","m":0.58,"p":0.34,"q":0.04,"c":0.01,"l":0.02,"k":0.01},
{"r":"NW","d":"2020-09-10","m":0.52,"p":0.41,"q":0.03,"c":0.01,"l":0.02,"k":0.01},
{"r":"NW","d":"2020-09-17","m":0.45,"p":0.49,"q":0.03,"c":0.01,"l":0.01,"k":0.01},
{"r":"NW","d":"2020-09-24","m":0.37,"p":0.58,"q":0.02,"c":0.01,"l":0.01,"k":0.01},
{"r":"NW","d":"2020-10-01","m":0.33,"p":0.62,"q":0.02,"c":0.01,"l":0.01,"k":0.01},
{"r":"NW","d":"2020-10-08","m":0.26,"p":0.69,"q":0.02,"c":0.01,"l":0.01,"k":0.01},
{"r":"NW","d":"2020-10-15","m":0.23,"p":0.71,"q":0.04,"c":0.01,"l":0.01},
{"r":"NW","d":"2020-10-22","m":0.19,"p":0.75,"q":0.04,"c":0.01,"l":0.01},
{"r":"NW","d":"2020-10-29","m":0.16,"p":0.79,"q":0.03,"c":0.01,"l":0.01},
{"r":"NW","d":"2020-11-05","m":0.16,"p":0.79,"q":0.03,"c":0.01,"l":0.01},
{"r":"NW","d":"2020-11-12","m":0.13,"p":0.82,"q":0.03,"c":0.01,"l":0.01},
{"r":"NW","d":"2020-11-19","m":0.12,"p":0.82,"q":0.04,"c":0.01,"l":0.01},
{"r":"NW","d":"2020-11-26","m":0.1,"p":0.85,"q":0.03,"c":0.01,"l":0.01},
{"r":"NW","d":"2020-12-03","m":0.11,"v":0.01,"p":0.84,"q":0.02,"c":0.01,"l":0.01},
{"r":"NW","d":"2020-12-10","m":0.09,"v":0.07,"p":0.81,"q":0.02,"c":0.01},
{"r":"NW","d":"2020-12-17","m":0.06,"v":0.2,"p":0.71,"q":0.02,"c":0.01},
{"r":"NW","d":"2020-12-24","m":0.07,"v":0.39,"p":0.53,"q":0.01},
{"r":"NW","d":"2020-12-31","m":0.05,"v":0.52,"p":0.42,"q":0.01},
{"r":"NW","d":"2021-01-07","m":0.02,"v":0.25,"p":0.72,"q":0.01},
{"r":"WA","d":"2020-03-05","m":0.98,"b":0.02},
{"r":"WA","d":"2020-03-12","m":0.89,"l":0.06,"k":0.02,"o":0.02,"b":0.01},
{"r":"WA","d":"2020-03-19","m":0.78,"l":0.12,"k":0.04,"o":0.03,"n":0.01,"b":0.02},
{"r":"WA","d":"2020-03-26","m":0.62,"c":0.01,"l":0.18,"k":0.07,"o":0.06,"n":0.02,"b":0.04},
{"r":"WA","d":"2020-04-02","m":0.58,"c":0.03,"l":0.23,"k":0.09,"o":0.03,"n":0.01,"b":0.03},
{"r":"WA","d":"2020-04-09","m":0.56,"c":0.04,"l":0.25,"k":0.09,"o":0.02,"n":0.02,"b":0.02},
{"r":"WA","d":"2020-04-16","m":0.56,"c":0.04,"l":0.25,"k":0.11,"n":0.02,"b":0.02},
{"r":"WA","d":"2020-04-23","m":0.55,"c":0.05,"l":0.24,"k":0.13,"n":0.02,"b":0.01},
{"r":"WA","d":"2020-04-30","m":0.74,"c":0.02,"l":0.15,"k":0.08,"n":0.01},
{"r":"WA","d":"2020-05-07","m":0.78,"c":0.02,"l":0.14,"k":0.06},
{"r":"WA","d":"2020-05-14","m":0.81,"c":0.01,"l":0.11,"k":0.06,"n":0.01},
{"r":"WA","d":"2020-05-21","m":0.84,"c":0.01,"l":0.07,"k":0.07,"n":0.01},
{"r":"WA","d":"2020-05-28","m":0.86,"c":0.01,"l":0.07,"k":0.05,"n":0.01},
{"r":"WA","d":"2020-06-04","m":0.88,"c":0.01,"l":0.06,"k":0.03,"n":0.02},
{"r":"WA","d":"2020-06-11","m":0.92,"c":0.01,"l":0.03,"k":0.04},
{"r":"WA","d":"2020-06-18","m":0.93,"l":0.06,"k":0.01},
{"r":"WA","d":"2020-06-25","m":0.64,"l":0.33,"k":0.03},
{"r":"WA","d":"2020-07-02","m":0.89,"p":0.01,"c":0.01,"l":0.06,"k":0.03},
{"r":"WA","d":"2020-07-09","m":0.84,"p":0.08,"l":0.04,"k":0.04},
{"r":"WA","d":"2020-07-16","m":0.95,"p":0.01,"l":0.03,"k":0.01},
{"r":"WA","d":"2020-07-23","m":0.95,"l":0.05},
{"r":"WA","d":"2020-07-30","m":1.0},
{"r":"WA","d":"2020-08-06","m":0.85,"p":0.1,"q":0.03,"c":0.01,"k":0.01},
{"r":"WA","d":"2020-08-13","m":0.77,"p":0.06,"q":0.1,"c":0.04,"k":0.03},
{"r":"WA","d":"2020-08-20","m":0.26,"p":0.38,"q":0.32,"c":0.02,"k":0.02},
{"r":"WA","d":"2020-08-27","m":0.26,"p":0.39,"q":0.32,"c":0.01,"k":0.02},
{"r":"WA","d":"2020-09-03","m":0.23,"p":0.55,"q":0.2,"c":0.01,"k":0.01},
{"r":"WA","d":"2020-09-10","m":0.1,"p":0.83,"q":0.05,"c":0.01,"k":0.01},
{"r":"WA","d":"2020-09-17","m":0.16,"p":0.78,"q":0.04,"c":0.01,"k":0.01},
{"r":"WA","d":"2020-09-24","m":0.17,"p":0.81,"q":0.01,"c":0.01},
{"r":"WA","d":"2020-10-01","m":0.21,"p":0.77,"q":0.01,"c":0.01},
{"r":"WA","d":"2020-10-08","m":0.31,"p":0.67,"q":0.01,"c":0.01},
{"r":"WA","d":"2020-10-15","m":0.21,"p":0.77,"q":0.01,"c":0.01},
{"r":"WA","d":"2020-10-22","m":0.23,"p":0.75,"q":0.01,"c":0.01},
{"r":"WA","d":"2020-10-29","m":0.22,"p":0.76,"q":0.01,"c":0.01},
{"r":"WA","d":"2020-11-05","m":0.21,"p":0.77,"q":0.01,"c":0.01},
{"r":"WA","d":"2020-11-12","m":0.16,"p":0.82,"q":0.01,"c":0.01},
{"r":"WA","d":"2020-11-19","m":0.14,"p":0.84,"q":0.01,"c":0.01},
{"r":"WA","d":"2020-11-26","m":0.14,"p":0.84,"q":0.01,"c":0.01},
{"r":"WA","d":"2020-12-03","m":0.11,"v":0.01,"p":0.86,"q":0.01,"k":0.01},
{"r":"WA","d":"2020-12-10","m":0.08,"v":0.03,"p":0.87,"q":0.01,"k":0.01},
{"r":"WA","d":"2020-12-17","m":0.06,"v":0.08,"p":0.84,"q":0.01,"k":0.01},
{"r":"WA","d":"2020-12-24","m":0.06,"v":0.18,"p":0.74,"q":0.01,"k":0.01},
{"r":"WA","d":"2020-12-31","m":0.03,"v":0.23,"p":0.72,"q":0.01,"k":0.01}
]},
"transform":[
{"fold":["m","v","p","q","c","l","k","o","n","b"],"as":["code","share"]},
{"filter":"isValid(datum.share)"},
{"impute":"share","key":"d","groupby":["r","code"],"value":0},
{"joinaggregate":[{"op":"sum","field":"share","as":"tot"}],"groupby":["r","d"]},
{"filter":"datum.tot > 0"},
{"lookup":"code","from":{"data":{"name":"variants"},"key":"code","fields":["variant","ord"]}},
{"lookup":"r","from":{"data":{"name":"regions"},"key":"r","fields":["region"]}}
],
"facet":{"field":"region","type":"nominal","title":null,"header":{"labels":false,"title":null,"labelExpr":"''","labelFontSize":1,"labelPadding":0},"sort":["South East","London","East of England","South West","Midlands","North East and Yorkshire","Scotland","North West","Wales"]},
"columns":3,
"spacing":{"row":14,"column":14},
"spec":{
"width":361,"height":210,
"layer":[
{"mark":{"type":"area","interpolate":"linear","opacity":1},
"encoding":{
"x":{"field":"d","type":"temporal","scale":{"type":"utc","domain":[{"year":2020,"month":3,"date":1,"utc":true},{"year":2021,"month":1,"date":8,"utc":true}]},
"axis":{"title":null,"grid":false,"domain":false,"tickCount":{"interval":"month","step":1},
"labelExpr":"slice(utcFormat(datum.value, '%b'), 0, 1)","labelOverlap":false,"labelFlush":false,"labelFontSize":22.4,"labelColor":"#4D4D4D","labelPadding":2,"tickColor":"#333333","tickSize":6,"tickWidth":1.2}},
"y":{"field":"share","type":"quantitative","stack":"normalize","scale":{"domain":[-0.05,1.367],"nice":false,"zero":false},
"axis":{"title":null,"values":[0,0.25,0.5,0.75,1],"labelExpr":"format(datum.value, '.2f')","grid":true,"gridColor":"#E0E0E0","gridWidth":1,"domain":false,"tickColor":"#333333","tickSize":7,"tickWidth":1.2,"labelFontSize":22.4,"labelColor":"#4D4D4D","labelPadding":5}},
"color":{"field":"variant","type":"nominal","scale":{"domain":["B","B.1.98","B.40","B.1","B.1.1","B.1.1.1","B.1.1.315","B.1.177","VOC 202012/01","minority variants"],"range":["#FF4000","#F78500","#A5A800","#00C000","#00D455","#00DDE6","#00CCFF","#8070FF","#FF00FF","#BEBEBE"]},
"legend":{"title":null,"orient":"none","legendX":92,"legendY":735,"direction":"horizontal","columns":5,"symbolType":"square","symbolSize":1600,"symbolStrokeWidth":0,"symbolOpacity":1,"labelFontSize":22.4,"labelColor":"black","labelOffset":15,"labelLimit":400,"columnPadding":23,"rowPadding":15}},
"order":{"field":"ord","type":"quantitative"}
}},
{"transform":[{"aggregate":[{"op":"count","as":"cnt"}],"groupby":["region"]}],
"mark":{"type":"rect","color":"#D9D9D9"},
"encoding":{"x":{"datum":{"year":2020,"month":3,"date":1,"utc":true}},"x2":{"datum":{"year":2021,"month":1,"date":8,"utc":true}},"y":{"datum":1.05},"y2":{"datum":1.367}}},
{"transform":[{"aggregate":[{"op":"count","as":"cnt"}],"groupby":["region"]}],
"mark":{"type":"text","fontSize":22.4,"color":"#1A1A1A","baseline":"middle","align":"center"},
"encoding":{"x":{"datum":{"year":2020,"month":8,"date":4,"hours":12,"utc":true}},"y":{"datum":1.2085},"text":{"field":"region"}}}
]
}
}
